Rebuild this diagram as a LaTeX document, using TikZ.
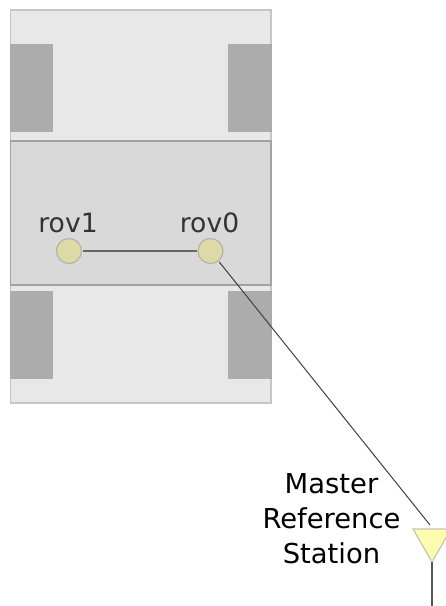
\documentclass[tikz,border=0pt]{standalone}
\usepackage{fontspec}
\setmainfont{DejaVu Sans}
\definecolor{basefill}{HTML}{E8E8E8}
\definecolor{baseedge}{HTML}{C6C6C6}
\definecolor{bodyfill}{HTML}{D9D9D9}
\definecolor{bodyedge}{HTML}{A2A2A2}
\definecolor{wheelfill}{HTML}{A9A9A9}
\definecolor{roverfill}{HTML}{DEDAA8}
\definecolor{roveredge}{HTML}{B4B4A8}
\definecolor{antfill}{HTML}{FFFBB0}
\definecolor{antedge}{HTML}{C4C4B4}
\tikzset{
  x=1pt,y=-1pt,
  basebox/.style={fill=basefill,draw=baseedge,line width=1.4pt},
  bodybox/.style={fill=bodyfill,draw=bodyedge,line width=1.2pt},
  wheelbox/.style={fill=wheelfill,draw=none,opacity=.95},
  rover/.style={circle,fill=roverfill,draw=roveredge,line width=1.2pt,minimum size=25pt,inner sep=0pt,outer sep=1.5pt},
  rovlabel/.style={anchor=base,font=\fontsize{26.6}{26.6}\selectfont,text=black!80,inner sep=0pt},
  masterlabel/.style={anchor=base,font=\fontsize{27.4}{27.4}\selectfont,text=black,inner sep=0pt},
  link/.style={draw=black!60,line width=1.2pt},
  baseline link/.style={draw=black!75,line width=1pt},
  mast/.style={draw=black!65,line width=1.2pt},
}
\begin{document}
\begin{tikzpicture}
\useasboundingbox (0,0) rectangle (446,606);
\draw[basebox] (10.5,10) rectangle (271,403);
\fill[wheelbox] (10,44) rectangle (53,132);
\fill[wheelbox] (228,44) rectangle (271.5,132);
\fill[wheelbox] (10,291) rectangle (53,379);
\fill[wheelbox] (228,291) rectangle (271.5,379);
\draw[bodybox] (10.5,141) rectangle (271,285);
\node[rover] (rov1) at (69,251) {};
\node[rover] (rov0) at (210.5,251) {};
\node[rovlabel] (rov1text) at (68,232) {rov1};
\node[rovlabel] (rov0text) at (209.5,232) {rov0};
\draw[link] (rov1) -- (rov0);
\coordinate (antleft) at (413,529);
\coordinate (antright) at (451,529);
\coordinate (anttip) at (432,562);
\coordinate (antfoot) at (432,606);
\coordinate (anttop) at (430,525);
\draw[fill=antfill,draw=antedge,line width=1.2pt,line join=miter] (antleft) -- (antright) -- (anttip) -- cycle;
\draw[mast] (anttip) -- (antfoot);
\draw[baseline link] (rov0) -- (anttop);
\node[masterlabel] (m1) at (331.5,493) {Master};
\node[masterlabel] (m2) at (331.5,528) {Reference};
\node[masterlabel] (m3) at (331.5,563) {Station};
\end{tikzpicture}
\end{document}
